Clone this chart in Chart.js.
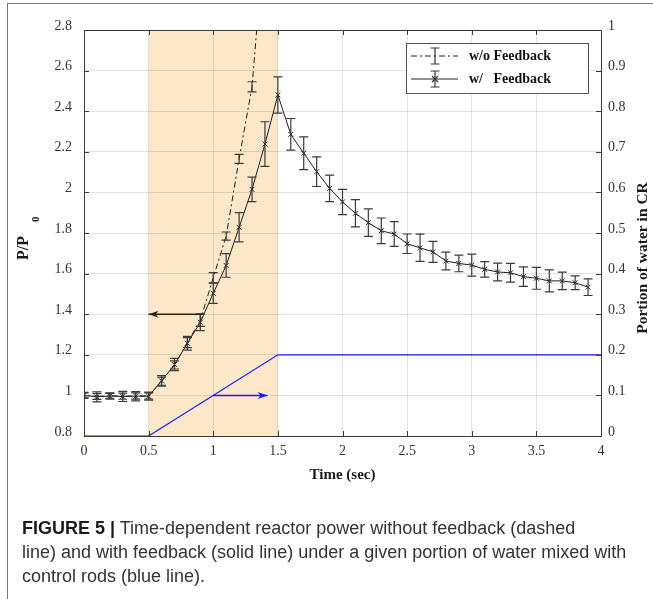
<!DOCTYPE html>
<html><head><meta charset="utf-8">
<script src="https://cdn.jsdelivr.net/npm/chart.js@4.4.0/dist/chart.umd.min.js"></script>
<style>
html,body{margin:0;padding:0;background:#fff;}
#wrap{position:relative;width:653px;height:599px;overflow:hidden;background:#fff;}
#frame{position:absolute;left:7px;top:3px;width:700px;height:700px;border-top:1px solid #7a7a7a;border-left:1px solid #7a7a7a;}
#c{position:absolute;left:0;top:0;}
#cap{position:absolute;left:22px;top:516px;font-family:"Liberation Sans",Arial,sans-serif;font-size:18px;line-height:24px;color:#333;white-space:nowrap;}
#cap b{color:#1a1a1a;}
</style></head>
<body><div id="wrap"><div id="frame"></div><canvas id="c" width="653" height="599"></canvas>
<div id="cap"><div><b>FIGURE 5 |</b> Time-dependent reactor power without feedback (dashed</div><div>line) and with feedback (solid line) under a given portion of water mixed with</div><div>control rods (blue line).</div></div>
</div>
<script>
// ---- data ----
const times = [0,0.1,0.2,0.3,0.4,0.5,0.6,0.7,0.8,0.9,1.0,1.1,1.2,1.3,1.4,1.5,1.6,1.7,1.8,1.9,2.0,2.1,2.2,2.3,2.4,2.5,2.6,2.7,2.8,2.9,3.0,3.1,3.2,3.3,3.4,3.5,3.6,3.7,3.8,3.9];
const withFeedback = [1.000,0.993,0.997,0.995,0.996,0.996,1.072,1.152,1.257,1.360,1.503,1.640,1.828,2.015,2.238,2.480,2.286,2.193,2.102,2.020,1.953,1.897,1.851,1.811,1.795,1.747,1.727,1.707,1.662,1.650,1.642,1.621,1.608,1.604,1.585,1.577,1.564,1.564,1.555,1.533];
const withFeedbackErr = [0.015,0.025,0.015,0.025,0.023,0.020,0.026,0.030,0.034,0.041,0.050,0.058,0.072,0.060,0.110,0.089,0.078,0.081,0.073,0.065,0.062,0.067,0.068,0.063,0.061,0.048,0.067,0.052,0.044,0.041,0.054,0.038,0.044,0.046,0.048,0.054,0.054,0.043,0.034,0.041];
const woTimes = [0,0.1,0.2,0.3,0.4,0.5,0.6,0.7,0.8,0.9,1.0,1.1,1.2,1.3,1.4];
const woFeedback = [1.000,0.995,0.998,0.996,0.997,0.997,1.070,1.150,1.260,1.370,1.580,1.785,2.165,2.520,3.300];
const woFeedbackErr = [0.012,0.015,0.012,0.015,0.015,0.015,0.020,0.020,0.025,0.030,0.025,0.020,0.022,0.025,0.030];
const ctrlTimes = [0,0.5,1.5,4];
const ctrlWater = [0,0,0.2,0.2];
const shadeRange = [0.5,1.5];
const arrowPower = [[0.92,1.4],[0.5,1.4]];   // (time, P/P0) -> points to left axis
const arrowWater = [[1.0,0.1],[1.42,0.1]];   // (time, portion) -> points to right axis
const legendLabels = ['w/o Feedback','w/   Feedback'];
const xTitle = 'Time (sec)';
const yTitle = 'P/P';
const yTitleSub = '0';
const y1Title = 'Portion of water in CR';

const pts = (xs,ys)=>xs.map((x,i)=>({x:x,y:ys[i]}));
const SERIF = "'Liberation Serif','Times New Roman',serif";
const AXIS = '#3a3a3a';

const shadePlugin = {
  id:'shade',
  beforeDraw(chart){
    const {ctx,chartArea:a,scales:{x}} = chart;
    ctx.save();
    ctx.fillStyle='#FCE8C8';
    const x0=x.getPixelForValue(shadeRange[0]), x1=x.getPixelForValue(shadeRange[1]);
    ctx.fillRect(x0,a.top,x1-x0,a.bottom-a.top);
    ctx.restore();
  }
};

const errorPlugin = {
  id:'errbars',
  afterDatasetsDraw(chart){
    const {ctx,chartArea:a} = chart;
    ctx.save();
    ctx.beginPath(); ctx.rect(a.left,a.top,a.right-a.left,a.bottom-a.top); ctx.clip();
    chart.data.datasets.forEach(ds=>{
      if(!ds.errors) return;
      const xs=chart.scales.x, ys=chart.scales[ds.yAxisID];
      ctx.strokeStyle=ds.errorColor; ctx.lineWidth=1.2; ctx.setLineDash([]);
      const cap=4.5;
      ds.data.forEach((p,j)=>{
        const e=ds.errors[j], px=xs.getPixelForValue(p.x);
        const y1=ys.getPixelForValue(p.y-e), y2=ys.getPixelForValue(p.y+e);
        ctx.beginPath();
        ctx.moveTo(px,y1); ctx.lineTo(px,y2);
        ctx.moveTo(px-cap,y1); ctx.lineTo(px+cap,y1);
        ctx.moveTo(px-cap,y2); ctx.lineTo(px+cap,y2);
        ctx.stroke();
      });
    });
    ctx.restore();
  }
};

function arrow(ctx,x0,y0,x1,y1,color,filled){
  ctx.save();
  ctx.strokeStyle=color; ctx.fillStyle=color; ctx.lineWidth=1.5;
  ctx.beginPath(); ctx.moveTo(x0,y0); ctx.lineTo(x1,y1); ctx.stroke();
  const d = x1>x0?1:-1, L=10, W=3.5;
  ctx.beginPath(); ctx.moveTo(x1,y1); ctx.lineTo(x1-d*L,y1-W); ctx.lineTo(x1-d*L*0.7,y1); ctx.lineTo(x1-d*L,y1+W); ctx.closePath(); ctx.fill();
  ctx.restore();
}

const decorPlugin = {
  id:'decor',
  afterDatasetsDraw(chart){
    const {ctx,chartArea:a,scales:{x,y,y1}} = chart;
    // arrows
    arrow(ctx,x.getPixelForValue(arrowPower[0][0]),y.getPixelForValue(arrowPower[0][1]),
              x.getPixelForValue(arrowPower[1][0]),y.getPixelForValue(arrowPower[1][1]),'#2a2418');
    arrow(ctx,x.getPixelForValue(arrowWater[0][0]),y1.getPixelForValue(arrowWater[0][1]),
              x.getPixelForValue(arrowWater[1][0]),y1.getPixelForValue(arrowWater[1][1]),'#1a1aff');
  },
  afterDraw(chart){
    const {ctx,chartArea:a,scales:{x,y,y1}} = chart;
    ctx.save();
    ctx.strokeStyle=AXIS; ctx.lineWidth=1;
    // top border
    ctx.beginPath(); ctx.moveTo(a.left,a.top+0.5); ctx.lineTo(a.right,a.top+0.5); ctx.stroke();
    // inward ticks
    ctx.beginPath();
    x.ticks.forEach(t=>{const px=Math.round(x.getPixelForValue(t.value))+0.5;
      ctx.moveTo(px,a.top); ctx.lineTo(px,a.top+5); ctx.moveTo(px,a.bottom); ctx.lineTo(px,a.bottom-5);});
    y.ticks.forEach(t=>{const py=Math.round(y.getPixelForValue(t.value))+0.5;
      ctx.moveTo(a.left,py); ctx.lineTo(a.left+5,py);});
    y1.ticks.forEach(t=>{const py=Math.round(y1.getPixelForValue(t.value))+0.5;
      ctx.moveTo(a.right,py); ctx.lineTo(a.right-5,py);});
    ctx.stroke();
    // axis titles
    ctx.fillStyle='#1a1a1a';
    ctx.font="bold 15px "+SERIF; ctx.textAlign='center'; ctx.textBaseline='middle';
    ctx.fillText(xTitle,(a.left+a.right)/2,475);
    ctx.save(); ctx.translate(643,258); ctx.rotate(-Math.PI/2); ctx.font="bold 15.5px "+SERIF;
    ctx.fillText(y1Title,0,0); ctx.restore();
    ctx.save(); ctx.translate(24,248); ctx.rotate(-Math.PI/2); ctx.font="bold 16px "+SERIF;
    ctx.fillText(yTitle,0,0);
    const w=ctx.measureText(yTitle).width;
    ctx.font="bold 11px "+SERIF; ctx.textAlign='left';
    ctx.fillText(yTitleSub,w/2+14,12); ctx.restore();
    // legend
    const L={l:406.5,t:43.5,w:182,h:50};
    ctx.fillStyle='#fff'; ctx.fillRect(L.l,L.t,L.w,L.h);
    ctx.strokeStyle='#555'; ctx.lineWidth=1; ctx.strokeRect(L.l,L.t,L.w,L.h);
    const rows=[56,79];
    ctx.strokeStyle='#222'; ctx.lineWidth=1;
    rows.forEach((ry,i)=>{
      ctx.setLineDash(i===0?[6,3,2,3]:[]);
      ctx.beginPath(); ctx.moveTo(411,ry); ctx.lineTo(458,ry); ctx.stroke();
      ctx.setLineDash([]);
      ctx.strokeStyle='#333'; ctx.lineWidth=1.2;
      ctx.beginPath(); ctx.moveTo(435,ry-8); ctx.lineTo(435,ry+8);
      ctx.moveTo(430.5,ry-8); ctx.lineTo(439.5,ry-8); ctx.moveTo(430.5,ry+8); ctx.lineTo(439.5,ry+8); ctx.stroke();
      if(i===1){ ctx.beginPath(); ctx.moveTo(432,ry-3); ctx.lineTo(438,ry+3); ctx.moveTo(432,ry+3); ctx.lineTo(438,ry-3); ctx.stroke(); }
      ctx.strokeStyle='#222'; ctx.lineWidth=1;
      ctx.fillStyle='#111'; ctx.font="bold 14px "+SERIF; ctx.textAlign='left'; ctx.textBaseline='middle';
      ctx.fillText(legendLabels[i],469,ry);
    });
    ctx.restore();
  }
};

const fmt = v => String(+(+v).toFixed(1));

new Chart(document.getElementById('c'),{
  type:'line',
  data:{datasets:[
    {label:legendLabels[1],data:pts(times,withFeedback),errors:withFeedbackErr,errorColor:'#3a3a3a',
     yAxisID:'y',borderColor:'#1e1e1e',borderWidth:1,pointStyle:'crossRot',pointRadius:3.5,pointBorderWidth:1,
     pointBorderColor:'#1e1e1e',tension:0},
    {label:legendLabels[0],data:pts(woTimes,woFeedback),errors:woFeedbackErr,errorColor:'#3a3a3a',
     yAxisID:'y',borderColor:'#1e1e1e',borderWidth:1,borderDash:[6,3,2,3],pointRadius:0,tension:0},
    {label:'water',data:pts(ctrlTimes,ctrlWater),yAxisID:'y1',borderColor:'#1a1aff',borderWidth:1.2,pointRadius:0,tension:0}
  ]},
  options:{
    responsive:false,animation:false,devicePixelRatio:1,
    layout:{padding:{top:30,left:0,right:0,bottom:0}},
    plugins:{legend:{display:false},tooltip:{enabled:false}},
    scales:{
      x:{type:'linear',min:0,max:4,position:'bottom',
        afterFit(s){s.height=163;},
        ticks:{stepSize:0.5,padding:7,color:'#333',font:{family:SERIF,size:14},callback:fmt,maxRotation:0},
        grid:{color:'rgba(0,0,0,0.11)',drawTicks:false},
        border:{display:true,color:AXIS,width:1}},
      y:{type:'linear',min:0.8,max:2.8,position:'left',
        afterFit(s){s.width=84;},
        ticks:{stepSize:0.2,padding:12,labelOffset:-4,color:'#333',font:{family:SERIF,size:14},callback:fmt},
        grid:{color:'rgba(0,0,0,0.11)',drawTicks:false},
        border:{display:true,color:AXIS,width:1}},
      y1:{type:'linear',min:0,max:1,position:'right',
        afterFit(s){s.width=52;},
        ticks:{stepSize:0.1,padding:7,labelOffset:-4,color:'#333',font:{family:SERIF,size:14},callback:fmt},
        grid:{drawOnChartArea:false,drawTicks:false},
        border:{display:true,color:AXIS,width:1}}
    }
  },
  plugins:[shadePlugin,errorPlugin,decorPlugin]
});
</script>
</body></html>
